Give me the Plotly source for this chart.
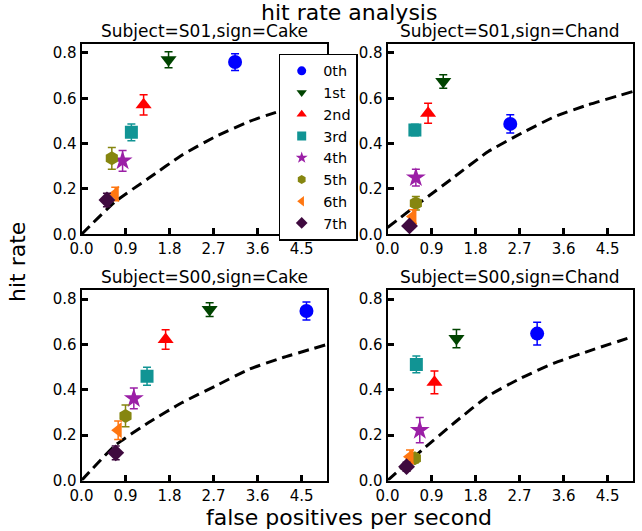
import plotly.graph_objects as go

W, H = 642, 531

labels = ["0th", "1st", "2nd", "3rd", "4th", "5th", "6th", "7th"]
colors = ["#0000ff", "#004400", "#ff0000", "#119494", "#9b1fa6", "#868610", "#ff7711", "#3f0a3f"]
symbols = ["circle", "triangle-down", "triangle-up", "square", "star", "hexagon", "triangle-left", "diamond"]
msizes = [14, 14, 14, 13, 15, 14, 14, 13]

s01_cake_x = [3.14, 1.78, 1.27, 1.02, 0.84, 0.62, 0.69, 0.52]
s01_cake_y = [0.76, 0.77, 0.571, 0.45, 0.324, 0.335, 0.178, 0.151]
s01_cake_err = [0.037, 0.035, 0.045, 0.037, 0.046, 0.048, 0.03, 0.03]
s01_cake_curve_x = [0, 0.69, 1.37, 2.06, 2.74, 3.42, 3.96, 4.5, 5.02]
s01_cake_curve_y = [0, 0.144, 0.247, 0.35, 0.431, 0.497, 0.537, 0.57, 0.6]

s01_chand_x = [2.51, 1.14, 0.83, 0.56, 0.58, 0.58, 0.52, 0.45]
s01_chand_y = [0.487, 0.674, 0.534, 0.46, 0.25, 0.137, 0.078, 0.037]
s01_chand_err = [0.04, 0.03, 0.044, 0.025, 0.037, 0.03, 0.03, 0.012]
s01_chand_curve_x = [0, 0.69, 1.37, 2.06, 2.74, 3.42, 4.1, 5.02]
s01_chand_curve_y = [0.03, 0.144, 0.254, 0.365, 0.446, 0.519, 0.571, 0.63]

s00_cake_x = [4.6, 2.62, 1.72, 1.34, 1.07, 0.9, 0.75, 0.7]
s00_cake_y = [0.748, 0.754, 0.622, 0.46, 0.362, 0.285, 0.222, 0.122]
s00_cake_err = [0.04, 0.03, 0.043, 0.04, 0.046, 0.048, 0.041, 0.03]
s00_cake_curve_x = [0, 0.69, 1.38, 2.06, 2.74, 3.42, 4.1, 5.02]
s00_cake_curve_y = [0, 0.155, 0.257, 0.344, 0.417, 0.49, 0.541, 0.6]

s00_chand_x = [3.06, 1.41, 0.96, 0.59, 0.66, 0.56, 0.46, 0.39]
s00_chand_y = [0.648, 0.626, 0.433, 0.512, 0.222, 0.098, 0.105, 0.061]
s00_chand_err = [0.05, 0.04, 0.05, 0.037, 0.056, 0.02, 0.03, 0.02]
s00_chand_curve_x = [0, 0.7, 1.38, 2.06, 2.74, 3.42, 4.1, 5.02]
s00_chand_curve_y = [0, 0.133, 0.257, 0.373, 0.453, 0.519, 0.57, 0.635]

x_tickvals = [0.0, 0.9, 1.8, 2.7, 3.6, 4.5]
x_ticktext = ["0.0", "0.9", "1.8", "2.7", "3.6", "4.5"]
y_tickvals = [0.0, 0.2, 0.4, 0.6, 0.8]
y_ticktext = ["0.0", "0.2", "0.4", "0.6", "0.8"]

panels = [
    ("Subject=S01,sign=Cake", s01_cake_x, s01_cake_y, s01_cake_err, s01_cake_curve_x, s01_cake_curve_y),
    ("Subject=S01,sign=Chand", s01_chand_x, s01_chand_y, s01_chand_err, s01_chand_curve_x, s01_chand_curve_y),
    ("Subject=S00,sign=Cake", s00_cake_x, s00_cake_y, s00_cake_err, s00_cake_curve_x, s00_cake_curve_y),
    ("Subject=S00,sign=Chand", s00_chand_x, s00_chand_y, s00_chand_err, s00_chand_curve_x, s00_chand_curve_y),
]

geo = [
    (81.5, 327.0, 43.9, 234.3),
    (387.5, 633.0, 43.9, 234.3),
    (81.5, 327.0, 290.1, 480.5),
    (387.5, 633.0, 290.1, 480.5),
]

FONT = "DejaVu Sans"
fig = go.Figure()
layout = dict(
    width=W, height=H, margin=dict(l=0, r=0, t=0, b=0, pad=0, autoexpand=False),
    paper_bgcolor="white", plot_bgcolor="white",
    font=dict(family=FONT, color="black", size=15),
    showlegend=True,
)
annotations = []

for i, (title, xs, ys, errs, cx, cy) in enumerate(panels):
    n = "" if i == 0 else str(i + 1)
    xa, ya = "x" + n, "y" + n
    l, r, t, b = geo[i]
    layout["xaxis" + n] = dict(
        domain=[l / W, r / W], range=[0, 5.02], anchor=ya, automargin=False,
        tickvals=x_tickvals, ticktext=x_ticktext, ticks="inside", ticklen=6, tickwidth=3,
        tickcolor="black", showline=True, linecolor="black", linewidth=2, mirror=True,
        showgrid=False, zeroline=False, tickfont=dict(size=15, family=FONT),
    )
    layout["yaxis" + n] = dict(
        domain=[1 - b / H, 1 - t / H], range=[0, 0.84], anchor=xa, automargin=False,
        tickvals=y_tickvals, ticktext=y_ticktext, ticks="inside", ticklen=6, tickwidth=3,
        tickcolor="black", showline=True, linecolor="black", linewidth=2, mirror=True,
        showgrid=False, zeroline=False, tickfont=dict(size=15, family=FONT),
    )
    fig.add_trace(go.Scatter(
        x=cx, y=cy, mode="lines", line=dict(color="black", width=3, dash="11px,6px", shape="spline", smoothing=0.5),
        xaxis=xa, yaxis=ya, showlegend=False, hoverinfo="skip",
    ))
    for k in range(len(labels)):
        fig.add_trace(go.Scatter(
            x=[xs[k]], y=[ys[k]], mode="markers", name=labels[k],
            marker=dict(symbol=symbols[k], size=msizes[k], color=colors[k], line=dict(width=0)),
            error_y=dict(type="data", array=[errs[k]], color=colors[k], thickness=1.5, width=4),
            xaxis=xa, yaxis=ya, showlegend=False,
        ))
    annotations.append(dict(
        text=title, x=(l + r) / 2 / W, y=1 - (t - 13) / H, xref="paper", yref="paper",
        xanchor="center", yanchor="middle", showarrow=False, font=dict(size=17, family=FONT),
    ))

for k in range(len(labels)):
    fig.add_trace(go.Scatter(
        x=[None], y=[None], mode="markers", name=labels[k],
        marker=dict(symbol=symbols[k], size=9, color=colors[k], line=dict(width=0)),
        xaxis="x", yaxis="y", showlegend=True,
    ))

annotations.append(dict(text="hit rate analysis", x=349 / W, y=1 - 12 / H, xref="paper", yref="paper",
                        xanchor="center", yanchor="middle", showarrow=False, font=dict(size=22, family=FONT)))
annotations.append(dict(text="false positives per second", x=349 / W, y=1 - 517 / H, xref="paper", yref="paper",
                        xanchor="center", yanchor="middle", showarrow=False, font=dict(size=22, family=FONT)))
annotations.append(dict(text="hit rate", x=17 / W, y=1 - 262 / H, xref="paper", yref="paper", textangle=-90,
                        xanchor="center", yanchor="middle", showarrow=False, font=dict(size=22, family=FONT)))

layout["annotations"] = annotations
layout["legend"] = dict(
    x=278.7 / W, y=1 - 53.5 / H, xanchor="left", yanchor="top",
    bgcolor="white", bordercolor="black", borderwidth=1.5,
    font=dict(size=14.4, family=FONT), tracegroupgap=0, itemwidth=33,
    entrywidth=76, entrywidthmode="pixels",
)
fig.update_layout(**layout)
fig.write_html("out.html", config={"displayModeBar": False, "staticPlot": True},
               post_script="document.body.style.margin='0';document.body.style.overflow='hidden';")
